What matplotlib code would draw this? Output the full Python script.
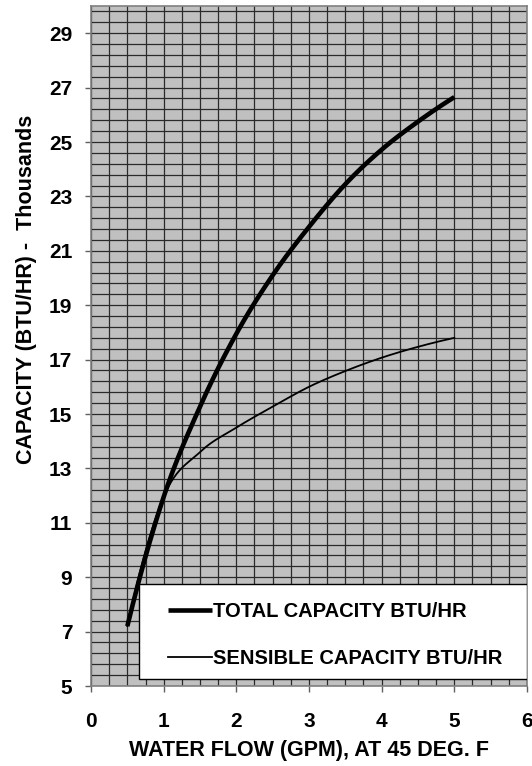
import numpy as np
import matplotlib
matplotlib.use("Agg")
import matplotlib.pyplot as plt
from matplotlib.patches import Rectangle

plt.rcParams['font.family'] = ['Liberation Sans', 'DejaVu Sans']

flow = [0.5, 1.0, 1.5, 2.0, 2.5, 3.0, 3.5, 4.0, 4.5, 5.0]
total = [7.2, 11.95, 15.27, 17.95, 20.1, 21.88, 23.45, 24.72, 25.75, 26.65]
sensible = [7.2, 11.95, 13.6, 14.5, 15.27, 16.0, 16.58, 17.07, 17.47, 17.8]
labels = ["TOTAL CAPACITY BTU/HR", "SENSIBLE CAPACITY BTU/HR"]
xticks = [0, 1, 2, 3, 4, 5, 6]
yticks = [5, 7, 9, 11, 13, 15, 17, 19, 21, 23, 25, 27, 29]


def smooth(xs, ys, n=40):
    p = np.column_stack([xs, ys]).astype(float)
    first = 3 * p[0] - 3 * p[1] + p[2]
    last = 3 * p[-1] - 3 * p[-2] + p[-3]
    p = np.vstack([first, p, last])
    out = []
    t = np.linspace(0, 1, n)[:, None]
    for i in range(1, len(p) - 2):
        p0, p1, p2, p3 = p[i - 1], p[i], p[i + 1], p[i + 2]
        c1 = p1 + (p2 - p0) / 6.0
        c2 = p2 - (p3 - p1) / 6.0
        seg = ((1 - t) ** 3) * p1 + 3 * ((1 - t) ** 2) * t * c1 + 3 * (1 - t) * t ** 2 * c2 + t ** 3 * p2
        out.append(seg if i == 1 else seg[1:])
    out = np.vstack(out)
    return out[:, 0], out[:, 1]


fig = plt.figure(figsize=(5.32, 7.66), dpi=100)
ax = fig.add_axes([91 / 532, 80 / 766, 436 / 532, 680 / 766])
ax.set_facecolor('#C0C0C0')
ax.set_xlim(0, 6)
ax.set_ylim(5, 30)

ax.set_xticks(xticks)
ax.set_xticks(np.arange(0, 6.001, 0.25), minor=True)
ax.set_yticks(yticks)
ax.set_yticks(np.arange(5, 29.9, 0.4), minor=True)
ax.grid(True, which='both', color='#2a2a2a', linewidth=0.9)
ax.set_axisbelow(True)
ax.tick_params(which='minor', length=0)
ax.tick_params(which='major', direction='out', length=4.5, width=1, color='#606060',
               labelsize=15, pad=9)
ax.tick_params(axis='x', which='major', pad=14)
for lab in ax.get_xticklabels() + ax.get_yticklabels():
    lab.set_fontweight('bold')
for s in ax.spines.values():
    s.set_color('#808080')
    s.set_linewidth(1.2)

tx, ty = smooth(flow, total)
sx, sy = smooth(flow, sensible)
l1, = ax.plot(tx, ty, color='black', linewidth=3.3, solid_capstyle='butt', zorder=3, label=labels[0])
l2, = ax.plot(sx, sy, color='black', linewidth=1.3, zorder=3, label=labels[1])

ax.add_patch(Rectangle((48 / 436, 7 / 680), 388 / 436, 95 / 680, transform=ax.transAxes,
                       facecolor='white', edgecolor='black', linewidth=1.0, zorder=5))
leg = ax.legend(handles=[l1, l2], labels=labels, loc='upper left',
                bbox_to_anchor=(77 / 436, (686 - 602) / 680), frameon=False,
                borderpad=0, borderaxespad=0, handlelength=2.2, handletextpad=0.05,
                labelspacing=1.38, prop={'weight': 'bold', 'size': 14.5})
leg.set_zorder(6)

ax.set_xlabel("WATER FLOW (GPM), AT 45 DEG. F", fontsize=15.5, fontweight='bold', labelpad=7)
fig.text(27 / 532, 1 - 289 / 766, "CAPACITY (BTU/HR) -  Thousands", rotation=90,
         ha='center', va='center', fontsize=15.5, fontweight='bold')

fig.savefig("out.png", dpi=100)
